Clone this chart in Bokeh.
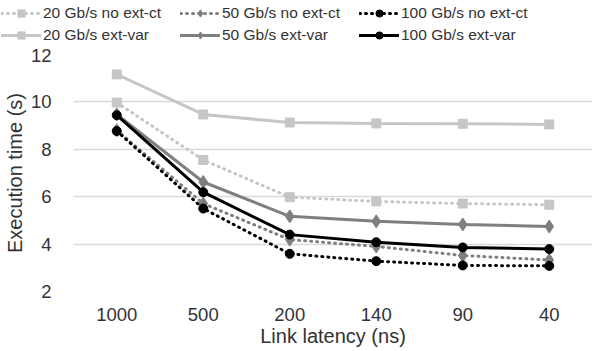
from bokeh.plotting import figure
from bokeh.models import Range1d, Legend, LegendItem, SingleIntervalTicker
from bokeh.layouts import column, row
from bokeh.embed import file_html
from bokeh.resources import INLINE

latency = ["1000", "500", "200", "140", "90", "40"]
s20_noext = [9.97, 7.55, 5.98, 5.8, 5.71, 5.66]
s50_noext = [8.8, 5.71, 4.19, 3.9, 3.52, 3.33]
s100_noext = [8.77, 5.5, 3.59, 3.28, 3.1, 3.08]
s20_ext = [11.16, 9.47, 9.13, 9.09, 9.08, 9.05]
s50_ext = [9.47, 6.62, 5.17, 4.96, 4.83, 4.74]
s100_ext = [9.44, 6.19, 4.4, 4.08, 3.86, 3.79]

LIGHT = "#c6c6c6"
MID = "#7f7f7f"
DARK = "#000000"
FONT = "Liberation Sans"
TEXT = "#333333"

LEG_H = 48
p = figure(width=597, height=351 - LEG_H, x_range=latency, y_range=Range1d(2, 12),
           output_backend="svg", toolbar_location=None,
           min_border_left=70, min_border_right=5, min_border_top=6, min_border_bottom=60)
p.outline_line_color = None
p.background_fill_color = "white"

# legend strip: same series drawn far outside its visible y-range, only the legend shows
lf = figure(width=597, height=LEG_H, x_range=latency, y_range=Range1d(100, 101),
            output_backend="svg", toolbar_location=None,
            x_axis_location=None, y_axis_location=None,
            min_border_left=0, min_border_right=0, min_border_top=0, min_border_bottom=0)
lf.grid.visible = False
lf.outline_line_color = None

series = [
    ("20 Gb/s no ext-ct", s20_noext, LIGHT, "dot", "square"),
    ("50 Gb/s no ext-ct", s50_noext, MID, "dot", "diamond"),
    ("100 Gb/s no ext-ct", s100_noext, DARK, "dot", "circle"),
    ("20 Gb/s ext-var", s20_ext, LIGHT, "solid", "square"),
    ("50 Gb/s ext-var", s50_ext, MID, "solid", "diamond"),
    ("100 Gb/s ext-var", s100_ext, DARK, "solid", "circle"),
]
sizes = {"square": 9, "diamond": 13, "circle": 9}
items = []
for name, vals, col, style, mk in series:
    dash = "1 5" if style == "dot" else "solid"
    p.line(latency, vals, line_color=col, line_width=3, line_dash=dash, line_cap="round")
    p.scatter(latency, vals, marker=mk, size=sizes[mk], fill_color=col, line_color=col)
    l1 = lf.line(latency, vals, line_color=col, line_width=3, line_dash=dash, line_cap="round")
    l2 = lf.scatter(latency, vals, marker=mk, size=sizes[mk], fill_color=col, line_color=col)
    items.append(LegendItem(label=name, renderers=[l1, l2]))

legend = Legend(items=items, ncols=3, orientation="horizontal", location=(1, 4),
                label_text_font=FONT, label_text_font_size="15.5px", label_text_color=TEXT,
                border_line_color=None, background_fill_alpha=0,
                glyph_width=40, glyph_height=18, label_standoff=2, spacing=4,
                label_width=133, padding=0, margin=0, label_height=18)
lf.add_layout(legend, "center")

p.yaxis.ticker = SingleIntervalTicker(interval=2)
p.ygrid.grid_line_color = "#d9d9d9"
p.ygrid.grid_line_width = 1.5
p.xgrid.grid_line_color = None
for ax in (p.xaxis[0], p.yaxis[0]):
    ax.axis_line_color = None
    ax.major_tick_line_color = None
    ax.minor_tick_line_color = None
    ax.major_label_text_font = FONT
    ax.major_label_text_font_size = "18.5px"
    ax.major_label_text_color = TEXT
    ax.axis_label_text_font = FONT
    ax.axis_label_text_font_size = "20px"
    ax.axis_label_text_font_style = "normal"
    ax.axis_label_text_color = TEXT
p.xaxis.axis_label = "Link latency (ns)"
p.yaxis.axis_label = "Execution time (s)"
p.xaxis.major_label_standoff = 10
p.xaxis.axis_label_standoff = 1
p.yaxis.major_label_standoff = 16
p.yaxis.axis_label_standoff = 2

layout = column(row(lf), p, spacing=0)
open("out.html", "w").write(file_html(layout, INLINE))
